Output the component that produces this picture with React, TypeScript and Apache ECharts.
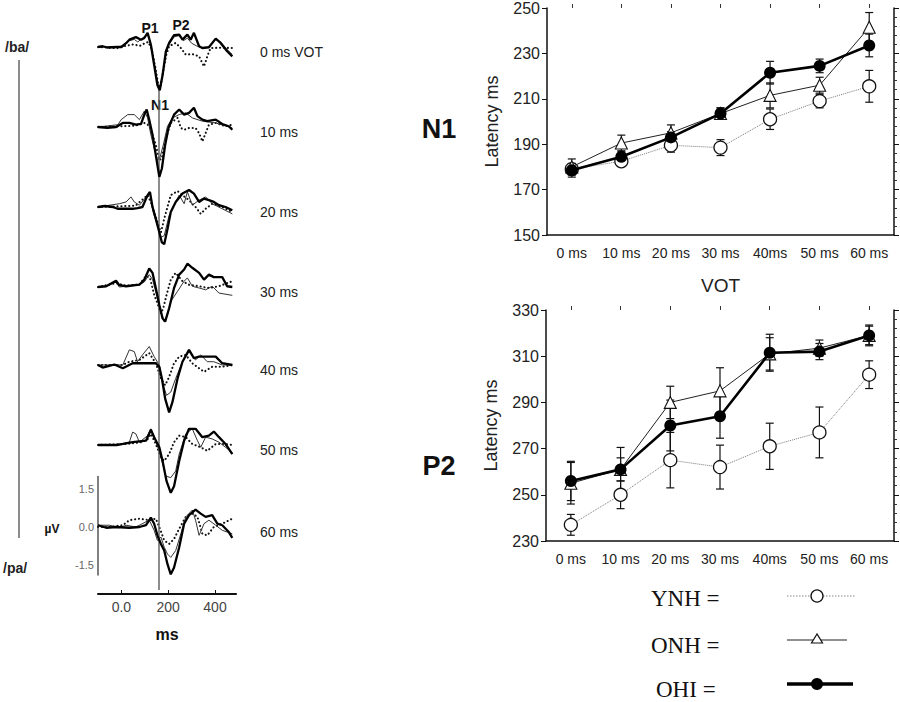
import React, { useEffect, useRef } from "react";
import * as echarts from "echarts";

// ---------------- DATA ----------------
const VOT_LABELS = ["0 ms", "10 ms", "20 ms", "30 ms", "40ms", "50 ms", "60 ms"];

// N1 latency (ms)
const N1_YNH = [179, 182.5, 189.5, 188.5, 201, 209, 215.5];
const N1_YNH_ERR = [2.5, 2, 3, 3.5, 4.5, 3, 7];
const N1_ONH = [180, 190.5, 195, 203.5, 211.5, 216, 241.5];
const N1_ONH_ERR = [3.5, 3.5, 3.5, 2.5, 5.5, 3.5, 6.5];
const N1_OHI = [178.5, 184.5, 193, 203.5, 221.5, 224.5, 233.5];
const N1_OHI_ERR = [3, 2.5, 2.5, 2.5, 5, 3, 5];

// P2 latency (ms)
const P2_YNH = [237, 250, 265, 262, 271, 277, 302];
const P2_YNH_ERR = [4.5, 6, 12, 9.5, 10, 11, 6];
const P2_ONH = [255, 261, 290, 295, 311, 313.5, 319];
const P2_ONH_ERR = [9, 9.5, 7, 10, 7, 3.5, 4.5];
const P2_OHI = [256, 261, 280, 284, 311.5, 312, 319];
const P2_OHI_ERR = [8.5, 5, 11, 9.5, 8, 3.5, 4];

// ERP waveforms: [time ms, amplitude µV]
const PANEL_LABELS = ["0 ms VOT", "10 ms", "20 ms", "30 ms", "40 ms", "50 ms", "60 ms"];
const REF_LINE_MS = 160;
const TIME_TICKS = [0, 200, 400];
const UV_TICKS = [-1.5, 0, 1.5];

const WAVE_OHI: number[][][] = [
  [[-100,0],[-80,0.03],[-60,-0.02],[-20,0],[0,0],[20,0.15],[34,0.29],[62,0.39],[84,0.29],[98,0.36],[112,0.56],[126,0.09],[140,-0.71],[154,-1.51],[164,-1.71],[176,-1.11],[190,-0.17],[204,0.16],[225,0.47],[247,0.49],[261,0.29],[282,0.49],[296,0.29],[310,0.56],[332,0.03],[346,-0.04],[374,-0.01],[403,0.33],[424,0.16],[452,-0.17],[474,-0.37]],
  [[-100,0],[-60,-0.03],[-23,0],[6,0.16],[34,0.16],[62,0.09],[84,0.12],[98,0.49],[108,0.69],[119,0.29],[133,-0.31],[147,-1.11],[162,-1.97],[173,-1.64],[187,-0.71],[201,-0.04],[225,0.49],[247,0.69],[268,0.49],[289,0.56],[310,0.76],[325,0.43],[346,0.29],[367,0.23],[403,0.29],[431,0.12],[459,0.03],[474,-0.11]],
  [[-100,0],[-70,0.04],[-37,0],[-16,-0.07],[6,-0.07],[48,-0.07],[69,-0.04],[90,0],[112,0.47],[122,0.6],[133,0],[147,-0.47],[162,-1.0],[173,-1.4],[183,-1.47],[197,-0.87],[211,-0.2],[232,0.2],[261,0.53],[289,0.67],[310,0.53],[332,0.2],[353,0.33],[374,0.27],[395,0.2],[417,0.07],[445,0],[474,-0.13]],
  [[-100,0],[-65,0.03],[-23,0.25],[-9,0.07],[20,0.03],[77,0.09],[98,0.29],[119,0.73],[133,0.56],[147,-0.04],[162,-0.71],[176,-1.24],[187,-1.37],[204,-0.84],[225,-0.04],[247,0.49],[268,0.69],[282,0.92],[303,0.76],[332,0.56],[353,0.29],[374,0.49],[395,0.39],[431,0.39],[452,0.03],[474,0]],
  [[-100,0],[-80,-0.1],[-60,-0.05],[-30,0.02],[6,-0.13],[48,0.07],[105,0.07],[147,0.07],[162,-0.07],[173,-0.53],[187,-1.33],[204,-1.87],[218,-1.47],[240,-0.53],[261,0.13],[289,0.6],[310,0.27],[332,0.33],[360,0.33],[403,0.33],[431,0.07],[474,0]],
  [[-100,0],[-20,0],[6,0.04],[48,0.11],[105,0.17],[126,0.6],[140,0.31],[162,-0.09],[176,-0.63],[193,-1.43],[211,-1.89],[225,-1.63],[247,-0.63],[268,0.17],[289,0.64],[317,0.64],[346,0.31],[374,0.37],[395,0.53],[417,0.31],[445,0.04],[474,-0.36]],
  [[-100,0.07],[-65,-0.03],[-23,0],[34,-0.03],[77,0],[105,0.07],[126,0.37],[140,0.13],[154,-0.33],[169,-0.67],[183,-0.93],[197,-1.47],[211,-1.87],[225,-1.6],[247,-0.8],[268,0.13],[289,0.47],[317,0.69],[339,0.53],[360,0.4],[388,0.47],[410,0.13],[431,0.07],[459,-0.2],[474,-0.43]],
];

const WAVE_ONH: number[][][] = [
  [[-100,0],[-20,0],[10,0.05],[34,0.25],[55,0.3],[70,0.2],[90,0.35],[112,0.5],[126,0.1],[140,-0.6],[154,-1.4],[164,-1.65],[176,-1.15],[190,-0.25],[204,0.1],[225,0.4],[247,0.45],[265,0.25],[282,0.35],[300,0.15],[320,0.05],[346,-0.05],[374,0],[403,0.3],[424,0.2],[452,-0.1],[474,-0.3]],
  [[-100,0],[-15,0.09],[-1,0.29],[27,0.49],[55,0.49],[77,0.29],[98,0.63],[112,0.36],[126,-0.31],[140,-0.84],[154,-1.31],[164,-1.24],[179,-0.71],[197,0.03],[218,0.36],[247,0.49],[275,0.56],[303,0.36],[346,0.23],[403,0.16],[474,-0.04]],
  [[-100,0],[-9,0.13],[20,0.2],[41,0.4],[55,0.2],[77,0.07],[112,0.47],[122,0.53],[136,-0.2],[154,-0.73],[169,-1.2],[183,-1.13],[204,-0.33],[225,0.07],[247,0.47],[268,0.13],[282,0.6],[303,0.07],[332,0.27],[360,0.4],[388,0.13],[431,-0.07],[474,-0.27]],
  [[-100,0],[-65,0.03],[-23,0.2],[-9,0],[20,0.03],[77,0.09],[98,0.2],[119,0.49],[133,0.3],[150,-0.3],[165,-0.9],[183,-1.37],[197,-1.1],[211,-0.57],[240,-0.17],[268,0.23],[282,0.36],[303,0.03],[332,-0.04],[360,-0.11],[388,0.03],[417,-0.24],[474,-0.33]],
  [[-100,0],[6,0],[34,0.6],[55,0.53],[69,0.13],[90,0.4],[119,0.73],[140,0.33],[162,0],[179,-0.8],[193,-1.2],[211,-1.07],[232,-0.53],[261,0.13],[289,0.53],[317,0.2],[339,0.4],[367,0.13],[395,0.13],[431,0],[474,0]],
  [[-100,0],[-20,0],[34,0.11],[48,0.51],[62,0.44],[77,0.11],[112,0.37],[126,0.64],[147,0.17],[169,-0.49],[190,-1.23],[211,-1.29],[232,-1.03],[247,-0.36],[275,0.44],[303,0.64],[325,0.17],[339,-0.09],[360,0.31],[388,0.24],[417,0.11],[445,-0.09],[474,-0.29]],
  [[-100,0.07],[-51,0.07],[-9,-0.03],[20,0.07],[62,0],[119,0.27],[140,-0.13],[154,-0.53],[169,-0.4],[183,-0.8],[197,-1.07],[211,-1.2],[232,-0.93],[254,-0.27],[275,0.4],[303,0.67],[317,0.27],[332,-0.33],[353,0.13],[374,0.27],[403,0.07],[431,-0.13],[474,-0.27]],
];

const WAVE_YNH: number[][][] = [
  [[-100,0],[-20,-0.05],[20,0.05],[50,0.1],[80,0.05],[100,0.15],[115,0.2],[130,-0.1],[145,-0.8],[158,-1.5],[166,-1.6],[178,-1.0],[192,-0.3],[204,0.03],[232,0.16],[254,-0.04],[275,-0.3],[303,-0.28],[332,-0.37],[353,-0.77],[367,-0.37],[381,-0.04],[420,-0.03],[474,-0.04]],
  [[-100,0],[60,0.05],[100,0.16],[120,0.05],[147,-0.71],[162,-1.31],[173,-1.24],[190,-0.44],[211,0.16],[240,0.36],[254,-0.04],[268,-0.11],[289,-0.04],[317,-0.04],[332,-0.24],[346,-0.57],[360,-0.24],[374,0.09],[403,0.16],[445,0.03],[474,0.09]],
  [[-100,0],[60,0.05],[112,0.47],[130,0.1],[154,-0.6],[169,-1.0],[183,-0.47],[197,0],[211,0.47],[240,0.63],[261,0.47],[289,0.27],[317,0],[339,-0.27],[360,-0.07],[388,0.13],[431,0],[474,-0.2]],
  [[-100,0],[-23,0.15],[20,0.05],[77,0.1],[105,0.43],[122,0.36],[140,-0.3],[154,-0.64],[169,-1.04],[179,-0.84],[193,-0.31],[211,0.29],[232,0.56],[261,0.23],[289,0.09],[332,0.03],[374,-0.04],[417,0.03],[474,0.23]],
  [[-100,0],[6,0],[34,0.13],[77,0.2],[119,0.47],[147,0.07],[169,-0.53],[187,-0.8],[204,-0.47],[225,0.07],[247,0.33],[275,0.4],[303,0.07],[332,-0.13],[353,-0.27],[388,-0.07],[431,-0.07],[474,0]],
  [[-100,0],[20,0.04],[80,0.1],[110,0.2],[126,0.44],[147,0.04],[169,-0.49],[183,-0.63],[204,-0.36],[225,0.11],[247,0.37],[275,0.31],[303,0.04],[339,-0.09],[367,-0.23],[403,0.04],[445,0.04],[474,0]],
  [[-100,0],[-51,0],[6,0.07],[34,0.27],[77,0.33],[119,0.27],[147,0.33],[162,0],[183,-0.53],[204,-0.67],[225,-0.47],[247,-0.07],[275,0.4],[303,0.53],[325,0.4],[346,-0.27],[367,-0.33],[395,0],[431,0.13],[474,0.33]],
];

// ---------------- LAYOUT ----------------
const SANS = "'Liberation Sans', Arial, sans-serif";
const SERIF = "'Liberation Serif', 'Times New Roman', serif";
const PANEL_BASE_Y = [47, 127, 207, 287, 365, 445, 527];
const PX_PER_UV = 25.3;
const WAVE_LEFT = 98;
const T_MIN = -100;
const T_MAX = 490;
const WAVE_WIDTH = (T_MAX - T_MIN) * 0.234;

function errData(vals: number[], errs: number[]) {
  return vals.map((v, i) => [i, v - errs[i], v + errs[i]]);
}

const errRender = (params: any, api: any) => {
  const i = api.value(0);
  const lo = api.coord([i, api.value(1)]);
  const hi = api.coord([i, api.value(2)]);
  const w = 4;
  const style = { stroke: "#111", lineWidth: 1.2 };
  return {
    type: "group",
    children: [
      { type: "line", shape: { x1: lo[0], y1: lo[1], x2: hi[0], y2: hi[1] }, style },
      { type: "line", shape: { x1: lo[0] - w, y1: lo[1], x2: lo[0] + w, y2: lo[1] }, style },
      { type: "line", shape: { x1: hi[0] - w, y1: hi[1], x2: hi[0] + w, y2: hi[1] }, style },
    ],
  };
};

function buildOption() {
  const grid: any[] = [];
  const xAxis: any[] = [];
  const yAxis: any[] = [];
  const series: any[] = [];

  // waveform panels
  PANEL_BASE_Y.forEach((base, i) => {
    const last = i === PANEL_BASE_Y.length - 1;
    const yMax = last ? 2.0 : 1.5;
    const yMin = last ? -1.9 : -2.5;
    const top = base - yMax * PX_PER_UV;
    const height = (yMax - yMin) * PX_PER_UV;
    grid.push({ left: WAVE_LEFT, top, width: WAVE_WIDTH, height });
    xAxis.push({
      type: "value",
      gridIndex: i,
      min: T_MIN,
      max: T_MAX,
      show: last,
      position: "bottom",
      offset: last ? 594 - (top + height) : 0,
      splitLine: { show: false },
      axisLine: { show: true, onZero: false, lineStyle: { color: "#111", width: 2 } },
      axisTick: { show: true, inside: true, length: 4, customValues: TIME_TICKS, lineStyle: { color: "#111" } },
      axisLabel: {
        customValues: TIME_TICKS,
        formatter: (v: number) => (v === 0 ? "0.0" : String(v)),
        fontSize: 14,
        color: "#444",
        fontFamily: SANS,
        margin: 6,
      },
      name: last ? "ms" : "",
      nameLocation: "middle",
      nameGap: 32,
      nameTextStyle: { fontSize: 16, fontWeight: "bold", color: "#111", fontFamily: SANS },
    });
    yAxis.push({
      type: "value",
      gridIndex: i,
      min: yMin,
      max: yMax,
      show: last,
      position: "left",
      splitLine: { show: false },
      axisLine: { show: true, onZero: false, lineStyle: { color: "#555", width: 1.5 } },
      axisTick: { show: false },
      axisLabel: {
        customValues: UV_TICKS,
        formatter: (v: number) => v.toFixed(1),
        fontSize: 11,
        color: "#666",
        fontFamily: SANS,
        margin: 4,
      },
    });
    series.push({
      type: "line",
      xAxisIndex: i,
      yAxisIndex: i,
      data: WAVE_YNH[i],
      showSymbol: false,
      silent: true,
      lineStyle: { color: "#111", width: 2.1, type: [0.1, 3.8], cap: "round" },
      z: 3,
    });
    series.push({
      type: "line",
      xAxisIndex: i,
      yAxisIndex: i,
      data: WAVE_ONH[i],
      showSymbol: false,
      silent: true,
      lineStyle: { color: "#333", width: 1 },
      z: 4,
    });
    series.push({
      type: "line",
      xAxisIndex: i,
      yAxisIndex: i,
      data: WAVE_OHI[i],
      showSymbol: false,
      silent: true,
      lineStyle: { color: "#000", width: 2.3 },
      z: 5,
    });
  });

  // overlay grid (index 7) for the vertical reference line
  grid.push({ left: WAVE_LEFT, top: 90, width: WAVE_WIDTH, height: 500 });
  xAxis.push({ type: "value", gridIndex: 7, min: T_MIN, max: T_MAX, show: false });
  yAxis.push({ type: "value", gridIndex: 7, min: 0, max: 1, show: false });
  series.push({
    type: "line",
    xAxisIndex: 7,
    yAxisIndex: 7,
    data: [],
    z: 2,
    markLine: {
      silent: true,
      symbol: "none",
      label: { show: false },
      lineStyle: { color: "#666", width: 1.5, type: "solid" },
      data: [{ xAxis: REF_LINE_MS }],
    },
  });

  // right charts: N1 (grid 8) and P2 (grid 9)
  const charts = [
    { g: 8, top: 5, height: 230, left: 547, min: 150, max: 250, Y: N1_YNH, YE: N1_YNH_ERR, O: N1_ONH, OE: N1_ONH_ERR, H: N1_OHI, HE: N1_OHI_ERR, vot: true },
    { g: 9, top: 310, height: 231, left: 546, min: 230, max: 330, Y: P2_YNH, YE: P2_YNH_ERR, O: P2_ONH, OE: P2_ONH_ERR, H: P2_OHI, HE: P2_OHI_ERR, vot: false },
  ];
  charts.forEach((c) => {
    grid.push({ left: c.left, top: c.top, right: 6, height: c.height });
    const xb = xAxis.length;
    xAxis.push({
      type: "category",
      gridIndex: c.g,
      data: VOT_LABELS,
      boundaryGap: true,
      position: "bottom",
      axisLine: { lineStyle: { color: "#111", width: 1.5 } },
      axisTick: { show: false },
      axisLabel: { fontSize: 14, color: "#222", fontFamily: SANS, margin: 11 },
      name: c.vot ? "VOT" : "",
      nameLocation: "middle",
      nameGap: 41,
      nameTextStyle: { fontSize: 19, color: "#222", fontFamily: SANS },
    });
    xAxis.push({
      type: "category",
      gridIndex: c.g,
      data: VOT_LABELS,
      boundaryGap: true,
      position: "top",
      axisLine: { show: false },
      axisTick: { show: true, alignWithLabel: true, length: 4, lineStyle: { color: "#333" } },
      axisLabel: { show: false },
    });
    const yl = yAxis.length;
    yAxis.push({
      type: "value",
      gridIndex: c.g,
      min: c.min,
      max: c.max,
      interval: 20,
      position: "left",
      splitLine: { show: false },
      axisLine: { show: true, lineStyle: { color: "#111", width: 1.5 } },
      axisTick: { show: true, length: 5, lineStyle: { color: "#111" } },
      axisLabel: { fontSize: 16, color: "#222", fontFamily: SANS, margin: 7 },
      name: "Latency ms",
      nameLocation: "middle",
      nameGap: 46,
      nameTextStyle: { fontSize: 18, color: "#222", fontFamily: SANS },
    });
    yAxis.push({
      type: "value",
      gridIndex: c.g,
      min: c.min,
      max: c.max,
      interval: 20,
      position: "right",
      splitLine: { show: false },
      axisLine: { show: true, lineStyle: { color: "#111", width: 1.5 } },
      axisTick: { show: true, length: 5, lineStyle: { color: "#111" } },
      minorTick: { show: true, splitNumber: 5, length: 3, lineStyle: { color: "#333" } },
      axisLabel: { show: false },
    });
    const errSeries = (vals: number[], errs: number[]) => ({
      type: "custom",
      xAxisIndex: xb,
      yAxisIndex: yl,
      renderItem: errRender,
      data: errData(vals, errs),
      encode: { x: 0, y: [1, 2] },
      silent: true,
      z: 2,
    });
    series.push(errSeries(c.Y, c.YE), errSeries(c.O, c.OE), errSeries(c.H, c.HE));
    series.push({
      type: "line",
      xAxisIndex: xb,
      yAxisIndex: yl,
      data: c.Y,
      symbol: "circle",
      symbolSize: 13,
      silent: true,
      lineStyle: { color: "#777", width: 1, type: "dotted" },
      itemStyle: { color: "#fff", borderColor: "#111", borderWidth: 1.3 },
      z: 4,
    });
    series.push({
      type: "line",
      xAxisIndex: xb,
      yAxisIndex: yl,
      data: c.O,
      symbol: "triangle",
      symbolSize: 12,
      silent: true,
      lineStyle: { color: "#222", width: 1 },
      itemStyle: { color: "#fff", borderColor: "#111", borderWidth: 1.1 },
      z: 5,
    });
    series.push({
      type: "line",
      xAxisIndex: xb,
      yAxisIndex: yl,
      data: c.H,
      symbol: "circle",
      symbolSize: 12,
      silent: true,
      lineStyle: { color: "#000", width: 2.6 },
      itemStyle: { color: "#000" },
      z: 6,
    });
  });

  const txt = (text: string, x: number, y: number, font: string, align = "left", fill = "#222") => ({
    type: "text",
    x,
    y,
    silent: true,
    style: { text, font, fill, textAlign: align, textVerticalAlign: "middle" },
  });

  const graphic: any[] = [
    // /ba/ - /pa/ continuum
    txt("/ba/", 5, 47, `bold 14px ${SANS}`),
    txt("/pa/", 3, 568, `bold 14px ${SANS}`),
    { type: "line", silent: true, shape: { x1: 19, y1: 60, x2: 19, y2: 538 }, style: { stroke: "#666", lineWidth: 1.5 } },
    // component labels
    txt("P1", 150, 28, `bold 14px ${SANS}`, "center", "#111"),
    txt("P2", 181, 25, `bold 14px ${SANS}`, "center", "#111"),
    txt("N1", 160, 105, `bold 14px ${SANS}`, "center", "#111"),
    txt("µV", 52, 529, `bold 12px ${SANS}`, "center", "#111"),
    // big panel labels
    txt("N1", 439, 129, `bold 27px ${SANS}`, "center", "#111"),
    txt("P2", 439, 466, `bold 27px ${SANS}`, "center", "#111"),
    // legend
    txt("YNH =", 651, 598, `23px ${SERIF}`, "left", "#111"),
    txt("ONH =", 651, 645, `23px ${SERIF}`, "left", "#111"),
    txt("OHI =", 656, 689, `23px ${SERIF}`, "left", "#111"),
    { type: "line", silent: true, shape: { x1: 787, y1: 596, x2: 856, y2: 596 }, style: { stroke: "#888", lineWidth: 1, lineDash: [1.5, 1.5] } },
    { type: "circle", silent: true, shape: { cx: 817, cy: 596, r: 6 }, style: { fill: "#fff", stroke: "#111", lineWidth: 1.3 } },
    { type: "line", silent: true, shape: { x1: 787, y1: 640, x2: 847, y2: 640 }, style: { stroke: "#222", lineWidth: 1.2 } },
    { type: "polygon", silent: true, shape: { points: [[817, 634], [811.5, 643], [822.5, 643]] }, style: { fill: "#fff", stroke: "#111", lineWidth: 1.2 } },
    { type: "line", silent: true, shape: { x1: 787, y1: 684, x2: 853, y2: 684 }, style: { stroke: "#000", lineWidth: 3.5 } },
    { type: "circle", silent: true, shape: { cx: 817, cy: 684, r: 6 }, style: { fill: "#000" } },
  ];
  PANEL_LABELS.forEach((lab, i) => {
    graphic.push(txt(lab, 260, PANEL_BASE_Y[i] + 5, `14px ${SANS}`, "left", "#222"));
  });

  return {
    animation: false,
    backgroundColor: "#fff",
    textStyle: { fontFamily: SANS },
    grid,
    xAxis,
    yAxis,
    series,
    graphic,
  };
}

export default function App() {
  const ref = useRef<HTMLDivElement>(null);
  useEffect(() => {
    document.body.style.margin = "0";
    if (!ref.current) return;
    const chart = echarts.init(ref.current, undefined, { renderer: "svg" });
    chart.setOption(buildOption() as any);
    return () => chart.dispose();
  }, []);
  return <div ref={ref} style={{ width: 900, height: 702, background: "#fff" }} />;
}
